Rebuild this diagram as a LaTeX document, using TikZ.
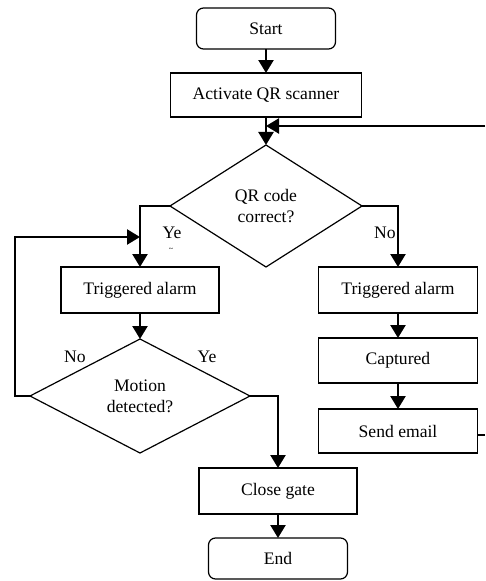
\documentclass[tikz,border=0pt]{standalone}
\usepackage{fontspec}
\setmainfont{Liberation Serif}
\usetikzlibrary{shapes.geometric,arrows.meta}
\begin{document}
\begin{tikzpicture}[x=1pt,y=-1pt,
  every node/.style={font=\fontsize{17.6}{21}\selectfont},
  box/.style={draw, line width=1.2pt, minimum width=#1, minimum height=45pt,
    inner sep=0pt, outer sep=0pt},
  term/.style={box=#1, rounded corners=7pt, minimum height=41pt},
  decision/.style={draw, shape=diamond, line width=1.2pt, inner sep=0pt,
    outer sep=0pt, align=center},
  arr/.style={line width=2.4pt, -{Triangle[length=13pt,width=15pt]}},
  thinlink/.style={line width=1.2pt},
  lbl/.style={inner sep=0pt}
]
\useasboundingbox (0,0) rectangle (485,581);

% main column
\node[term=139pt] (start) at (266,28.5) {Start};
\node[box=191pt, minimum height=44pt] (act) at (266,95) {Activate QR scanner};
\node[decision, minimum width=192pt, minimum height=122pt] (qr) at (266,206)
  {QR code\\correct?};

% left branch
\node[box=158pt, minimum height=46pt] (alarmL) at (140,290) {Triggered alarm};
\node[decision, minimum width=220pt, minimum height=114pt] (motion) at (140,396)
  {Motion\\detected?};
\node[box=158pt, minimum height=46pt] (close) at (278,491) {Close gate};
\node[term=139pt] (end) at (278,558.5) {End};

% right branch
\node[box=159pt, minimum height=46pt] (alarmR) at (398,290) {Triggered alarm};
\node[box=159pt] (capt) at (398,360.5) {Captured};
\node[box=159pt, minimum height=44pt] (mail) at (398,431) {Send email};

% loose ends and bends
\coordinate (loopin) at (485,126);
\coordinate (mailexit) at (477,435);
\coordinate (mailout) at (485,435);
\coordinate (yesjoin) at (140,237);
\coordinate (backtop) at (15,237);

% connectors
\draw[arr] (start) -- (act);
\draw[arr] (act) -- (qr);
\draw[arr] (loopin) -- (act.south |- loopin);
\draw[arr] (qr.west) -| (alarmL.north);
\draw[arr] (qr.east) -| (alarmR.north);
\draw[arr] (alarmL) -- (motion);
\draw[arr] (motion.west) -| (backtop) -- (yesjoin);
\draw[arr] (motion.east) -| (close.north);
\draw[arr] (close) -- (end);
\draw[arr] (alarmR) -- (capt);
\draw[arr] (capt) -- (mail);
\draw[thinlink] (mailexit) -- (mailout);

% branch labels
\node[lbl] (yes1) at (172,233) {Ye};
\node[lbl, font=\fontsize{8}{8}\selectfont] (yes1s) at (171,250) {\textasciitilde};
\node[lbl] (no1) at (385,233) {No};
\node[lbl] (no2) at (75,357) {No};
\node[lbl] (yes2) at (207,357) {Ye};
\end{tikzpicture}
\end{document}
